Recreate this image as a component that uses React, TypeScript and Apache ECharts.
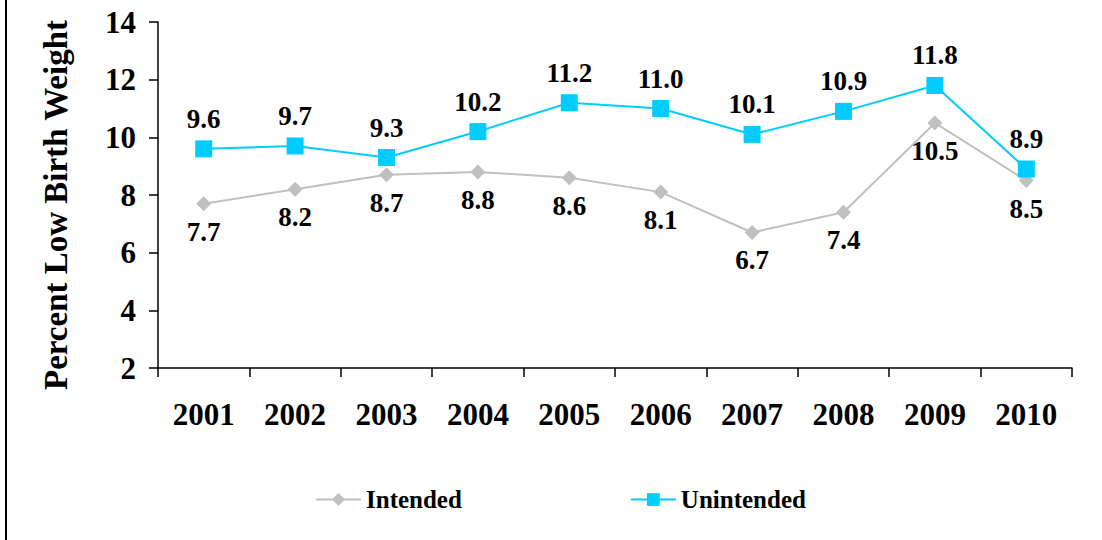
import React, { useEffect, useRef } from "react";
import * as echarts from "echarts";

const years = ["2001", "2002", "2003", "2004", "2005", "2006", "2007", "2008", "2009", "2010"];
const intended = [7.7, 8.2, 8.7, 8.8, 8.6, 8.1, 6.7, 7.4, 10.5, 8.5];
const unintended = [9.6, 9.7, 9.3, 10.2, 11.2, 11.0, 10.1, 10.9, 11.8, 8.9];

const FONT = '"Liberation Serif", "Times New Roman", serif';

export default function App() {
  const ref = useRef<HTMLDivElement>(null);
  useEffect(() => {
    if (!ref.current) return;
    const chart = echarts.init(ref.current, null, { renderer: "svg" });
    chart.setOption({
      animation: false,
      textStyle: { fontFamily: FONT },
      grid: { left: 158, right: 30, top: 22, bottom: 172, containLabel: false, outerBoundsMode: "none" },
      graphic: [
        {
          type: "line",
          shape: { x1: 6, y1: 0, x2: 6, y2: 540 },
          style: { stroke: "#000", lineWidth: 2 },
        },
      ],
      legend: {
        left: 310,
        top: 482,
        itemWidth: 45,
        itemHeight: 16,
        itemGap: 168,
        textStyle: { fontFamily: FONT, fontWeight: "bold", fontSize: 25, color: "#000" },
        data: ["Intended", "Unintended"],
      },
      xAxis: {
        type: "category",
        data: years,
        boundaryGap: true,
        axisLine: { lineStyle: { color: "#000", width: 1.5 } },
        axisTick: { show: true, length: 9, lineStyle: { color: "#000", width: 1.5 } },
        axisLabel: {
          margin: 31,
          fontFamily: FONT,
          fontWeight: "bold",
          fontSize: 31,
          color: "#000",
        },
      },
      yAxis: {
        type: "value",
        min: 2,
        max: 14,
        interval: 2,
        name: "Percent Low Birth Weight",
        nameLocation: "middle",
        nameGap: 86,
        nameRotate: 90,
        nameTextStyle: { fontFamily: FONT, fontWeight: "bold", fontSize: 33, color: "#000", padding: [0, 20, 0, 0] },
        splitLine: { show: false },
        axisLine: { show: true, lineStyle: { color: "#000", width: 1.5 } },
        axisTick: { show: true, length: 9, lineStyle: { color: "#000", width: 1.5 } },
        axisLabel: {
          margin: 22,
          fontFamily: FONT,
          fontWeight: "bold",
          fontSize: 31,
          color: "#000",
        },
      },
      series: [
        {
          name: "Intended",
          type: "line",
          data: intended,
          symbol: "diamond",
          symbolSize: 15,
          itemStyle: { color: "#C0C0C0" },
          lineStyle: { color: "#C0C0C0", width: 2 },
          label: {
            show: true,
            position: "bottom",
            distance: 7,
            fontFamily: FONT,
            fontWeight: "bold",
            fontSize: 27,
            color: "#000",
            formatter: (p: any) => Number(p.value).toFixed(1),
          },
          z: 2,
        },
        {
          name: "Unintended",
          type: "line",
          data: unintended,
          symbol: "rect",
          symbolSize: 17,
          itemStyle: { color: "#00CCFF" },
          lineStyle: { color: "#00CCFF", width: 2 },
          label: {
            show: true,
            position: "top",
            distance: 8,
            fontFamily: FONT,
            fontWeight: "bold",
            fontSize: 27,
            color: "#000",
            formatter: (p: any) => Number(p.value).toFixed(1),
          },
          z: 3,
        },
      ],
    });
    return () => chart.dispose();
  }, []);
  return <div ref={ref} style={{ width: 1102, height: 540, position: "absolute", left: 0, top: 0 }} />;
}
